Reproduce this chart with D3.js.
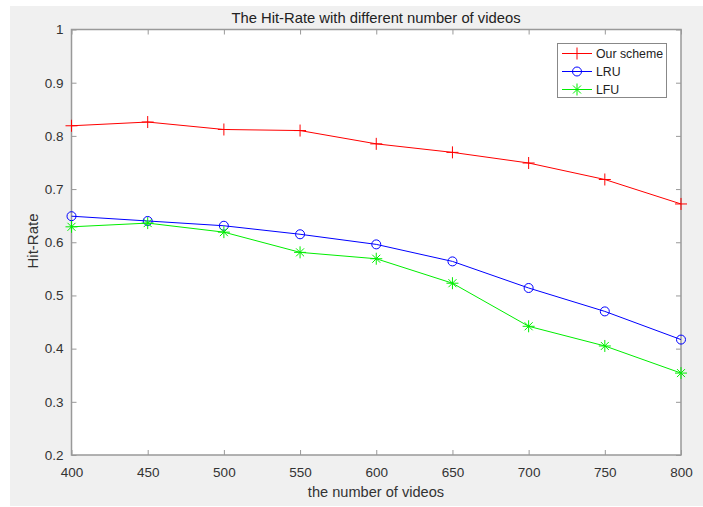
<!DOCTYPE html>
<html>
<head>
<meta charset="utf-8">
<script src="https://cdn.jsdelivr.net/npm/d3@7"></script>
<style>
  body { margin: 0; background: #fff; }
  svg { display: block; font-family: "Liberation Sans", Arial, sans-serif; }
</style>
</head>
<body>
<svg id="chart" width="703" height="507"></svg>
<script>
// data
var videos = [400, 450, 500, 550, 600, 650, 700, 750, 800];
var ourScheme = [0.819, 0.826, 0.812, 0.810, 0.785, 0.769, 0.749, 0.718, 0.672];
var lru = [0.649, 0.640, 0.631, 0.615, 0.596, 0.564, 0.514, 0.470, 0.417];
var lfu = [0.629, 0.636, 0.619, 0.581, 0.569, 0.523, 0.442, 0.405, 0.354];
var xTicks = [400, 450, 500, 550, 600, 650, 700, 750, 800];
var yTicks = [0.2, 0.3, 0.4, 0.5, 0.6, 0.7, 0.8, 0.9, 1];

var series = [
  { name: "Our scheme", values: ourScheme, color: "#ff0000", marker: "plus" },
  { name: "LRU", values: lru, color: "#0000ff", marker: "circle" },
  { name: "LFU", values: lfu, color: "#00ee00", marker: "star" }
];

var svg = d3.select("#chart");
var box = { left: 71.5, right: 681, top: 29.5, bottom: 455 };
var axisCol = "#999";
var textCol = "#333";

// figure background
svg.append("rect").attr("x", 10).attr("y", 6).attr("width", 693).attr("height", 500).attr("fill", "#f0f0f0");
svg.append("rect").attr("x", box.left).attr("y", box.top)
  .attr("width", box.right - box.left).attr("height", box.bottom - box.top).attr("fill", "#fff");

var x = d3.scaleLinear().domain([400, 800]).range([box.left, box.right]);
var y = d3.scaleLinear().domain([0.2, 1]).range([box.bottom, box.top]);

function styleAxis(g) {
  g.select(".domain").remove();
  g.selectAll(".tick line").attr("stroke", axisCol);
  g.selectAll(".tick text").attr("fill", textCol).style("font-size", "13.5px");
}

// ticks on all four sides, pointing inward
svg.append("g").attr("transform", "translate(0," + box.bottom + ")")
  .call(d3.axisBottom(x).tickValues(xTicks).tickSizeInner(-5).tickSizeOuter(0).tickPadding(12.5).tickFormat(d3.format("d")))
  .call(styleAxis);
svg.append("g").attr("transform", "translate(0," + box.top + ")")
  .call(d3.axisTop(x).tickValues(xTicks).tickSizeInner(-5).tickSizeOuter(0).tickFormat(""))
  .call(styleAxis);
svg.append("g").attr("transform", "translate(" + box.left + ",0)")
  .call(d3.axisLeft(y).tickValues(yTicks).tickSizeInner(-5).tickSizeOuter(0).tickPadding(8).tickFormat(function(d) { return d === 1 ? "1" : d3.format(".1f")(d); }))
  .call(styleAxis);
svg.append("g").attr("transform", "translate(" + box.right + ",0)")
  .call(d3.axisRight(y).tickValues(yTicks).tickSizeInner(-5).tickSizeOuter(0).tickFormat(""))
  .call(styleAxis);

svg.append("rect").attr("x", box.left).attr("y", box.top)
  .attr("width", box.right - box.left).attr("height", box.bottom - box.top)
  .attr("fill", "none").attr("stroke", axisCol).attr("stroke-width", 1.5);

// labels
svg.append("text").attr("x", 376).attr("y", 23)
  .attr("text-anchor", "middle").attr("fill", "#222").style("font-size", "14.8px")
  .text("The Hit-Rate with different number of videos");
svg.append("text").attr("x", 376).attr("y", 496.5)
  .attr("text-anchor", "middle").attr("fill", textCol).style("font-size", "14.6px")
  .text("the number of videos");
svg.append("text").attr("transform", "translate(37.5,241) rotate(-90)")
  .attr("text-anchor", "middle").attr("fill", textCol).style("font-size", "15px")
  .text("Hit-Rate");

function drawMarker(g, type, cx, cy, color) {
  if (type === "circle") {
    g.append("circle").attr("cx", cx).attr("cy", cy).attr("r", 4.5)
      .attr("fill", "none").attr("stroke", color).attr("stroke-width", 1);
  } else {
    var s = 6;
    var p = "M" + (cx - s) + "," + cy + "H" + (cx + s) + "M" + cx + "," + (cy - s) + "V" + (cy + s);
    if (type === "star") {
      var d = 4;
      p += "M" + (cx - d) + "," + (cy - d) + "L" + (cx + d) + "," + (cy + d) +
           "M" + (cx - d) + "," + (cy + d) + "L" + (cx + d) + "," + (cy - d);
    }
    g.append("path").attr("d", p).attr("stroke", color).attr("stroke-width", 1).attr("fill", "none");
  }
}

var line = d3.line().x(function(d, i) { return x(videos[i]); }).y(function(d) { return y(d); });

series.forEach(function(s) {
  var g = svg.append("g");
  g.append("path").datum(s.values).attr("d", line)
    .attr("fill", "none").attr("stroke", s.color).attr("stroke-width", 1);
  s.values.forEach(function(v, i) {
    drawMarker(g, s.marker, x(videos[i]), y(v), s.color);
  });
});

// legend
var lg = svg.append("g");
lg.append("rect").attr("x", 557.5).attr("y", 43.5).attr("width", 109).attr("height", 54)
  .attr("fill", "#fff").attr("stroke", "#888").attr("stroke-width", 1);
series.forEach(function(s, i) {
  var ly = 53.5 + i * 18;
  lg.append("line").attr("x1", 562).attr("x2", 592).attr("y1", ly).attr("y2", ly)
    .attr("stroke", s.color).attr("stroke-width", 1);
  drawMarker(lg, s.marker, 577, ly, s.color);
  lg.append("text").attr("x", 596).attr("y", ly + 4.5).attr("fill", "#222")
    .style("font-size", "12.3px").text(s.name);
});
</script>
</body>
</html>
